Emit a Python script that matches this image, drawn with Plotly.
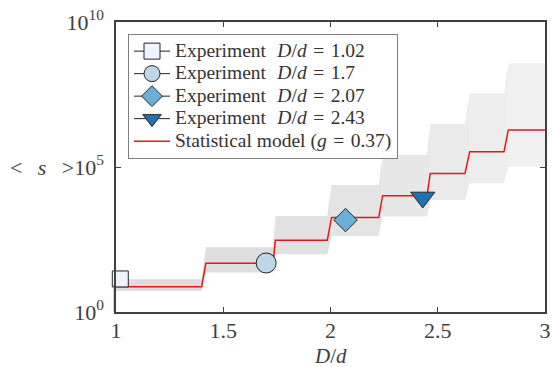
import plotly.graph_objects as go

# ---- data (log10 of <s>) ----
model_levels = [0.87, 1.68, 2.47, 3.26, 4.01, 4.78, 5.53, 6.28]
band_upper = [1.13, 2.23, 3.31, 4.38, 5.41, 6.48, 7.54, 8.58]
band_lower = [0.72, 1.36, 1.99, 2.62, 3.29, 3.86, 4.44, 5.01]
rise_start = [1.399, 1.732, 1.985, 2.225, 2.450, 2.627, 2.809]
rise_end = [1.419, 1.743, 2.005, 2.243, 2.465, 2.649, 2.829]
x_min, x_max = 1.0, 3.0

exp_Dd = [1.02, 1.7, 2.07, 2.43]
exp_logs = [1.14, 1.69, 3.17, 3.95]
exp_names = ["1.02", "1.7", "2.07", "2.43"]
exp_colors = ["#eff3ff", "#bdd7e7", "#6baed6", "#2171b5"]
exp_symbols = ["square", "circle", "diamond", "triangle-down"]
exp_sizes = [16, 20, 18, 21]

x_ticks = [1, 1.5, 2, 2.5, 3]
y_ticks = [1, 1e5, 1e10]
y_ticktext = ["10<sup>0</sup>",
              "&lt;&nbsp;&nbsp;\u2009<i>s</i>&nbsp;&nbsp;\u2009&gt;10<sup>5</sup>",
              "10<sup>10</sup>"]

FONT = "Liberation Serif"
INK = "#404040"
SP = "\u2004"
LEG_SPAN = '<span style="font-size:19.5px">{}</span>'

fig = go.Figure()

# ---- shaded band, one polygon per segment ----
n = len(model_levels)
for i in range(n):
    s = x_min if i == 0 else rise_end[i - 1]
    e = rise_start[i] if i < n - 1 else x_max
    xs = [s, e]
    ys = [band_lower[i], band_lower[i]]
    if i < n - 1:
        xs += [rise_end[i], rise_end[i]]
        ys += [band_lower[i + 1], band_upper[i + 1]]
    xs += [e, s]
    ys += [band_upper[i], band_upper[i]]
    g = int(220 + (240 - 220) * i / (n - 1))
    fig.add_trace(go.Scatter(
        x=xs, y=[10 ** v for v in ys], mode="lines", fill="toself",
        fillcolor=f"rgb({g},{g},{g})", line=dict(width=0),
        showlegend=False, hoverinfo="skip"))

# ---- model step line ----
mx, my = [x_min], [model_levels[0]]
for i in range(n - 1):
    mx += [rise_start[i], rise_end[i]]
    my += [model_levels[i], model_levels[i + 1]]
mx.append(x_max)
my.append(model_levels[-1])
fig.add_trace(go.Scatter(
    x=mx, y=[10 ** v for v in my], mode="lines",
    line=dict(color="#e8161b", width=1.5),
    name=LEG_SPAN.format(f"Statistical model (<i>g</i>{SP}={SP}0.37)"), legendrank=10))

# ---- experiments ----
for k in range(len(exp_Dd)):
    fig.add_trace(go.Scatter(
        x=[exp_Dd[k]], y=[10 ** exp_logs[k]], mode="lines+markers",
        line=dict(color="#222222", width=1),
        marker=dict(symbol=exp_symbols[k], size=exp_sizes[k], color=exp_colors[k],
                    line=dict(color="#262626", width=1)),
        cliponaxis=False,
        name=LEG_SPAN.format(
            f"Experiment{SP}&nbsp;<i>D</i>/<i>d</i>{SP}={SP}{exp_names[k]}"),
        legendrank=k + 1))

axis_common = dict(showline=True, linecolor=INK, linewidth=1.5, mirror="ticks",
                   ticks="inside", ticklen=5, tickcolor=INK, tickwidth=1.2,
                   showgrid=False, zeroline=False, automargin=False,
                   tickfont=dict(family=FONT, size=22, color=INK))

fig.update_layout(
    width=552, height=367, autosize=False,
    margin=dict(l=116, r=7, t=22, b=55, autoexpand=False),
    paper_bgcolor="white", plot_bgcolor="white",
    xaxis=dict(range=[x_min, x_max], tickvals=x_ticks,
               ticktext=[str(t) for t in x_ticks], ticklabelstandoff=-2, **axis_common),
    yaxis=dict(type="log", range=[0, 10], tickvals=y_ticks, ticktext=y_ticktext,
               ticklabelstandoff=6, **axis_common),
    legend=dict(x=0.028, y=0.959, xanchor="left", yanchor="top",
                bgcolor="white", bordercolor="#7f7f7f", borderwidth=1,
                font=dict(family=FONT, size=15, color="#333333"),
                traceorder="normal", tracegroupgap=0, itemwidth=36),
    showlegend=True,
    annotations=[dict(text="<i>D</i>/<i>d</i>", xref="paper", yref="paper",
                      x=0.5, y=-0.15, xanchor="center", yanchor="middle",
                      showarrow=False, borderpad=0,
                      font=dict(family=FONT, size=21, color=INK))],
    shapes=[dict(type="line", xref="paper", yref="y", x0=-0.0035, x1=-0.0035,
                 y0=0, y1=band_upper[-1], line=dict(color=INK, width=1.5), layer="above")],
)

fig.write_html("out.html", config={"displayModeBar": False},
               post_script="document.body.style.margin='0';document.body.style.padding='0';")
